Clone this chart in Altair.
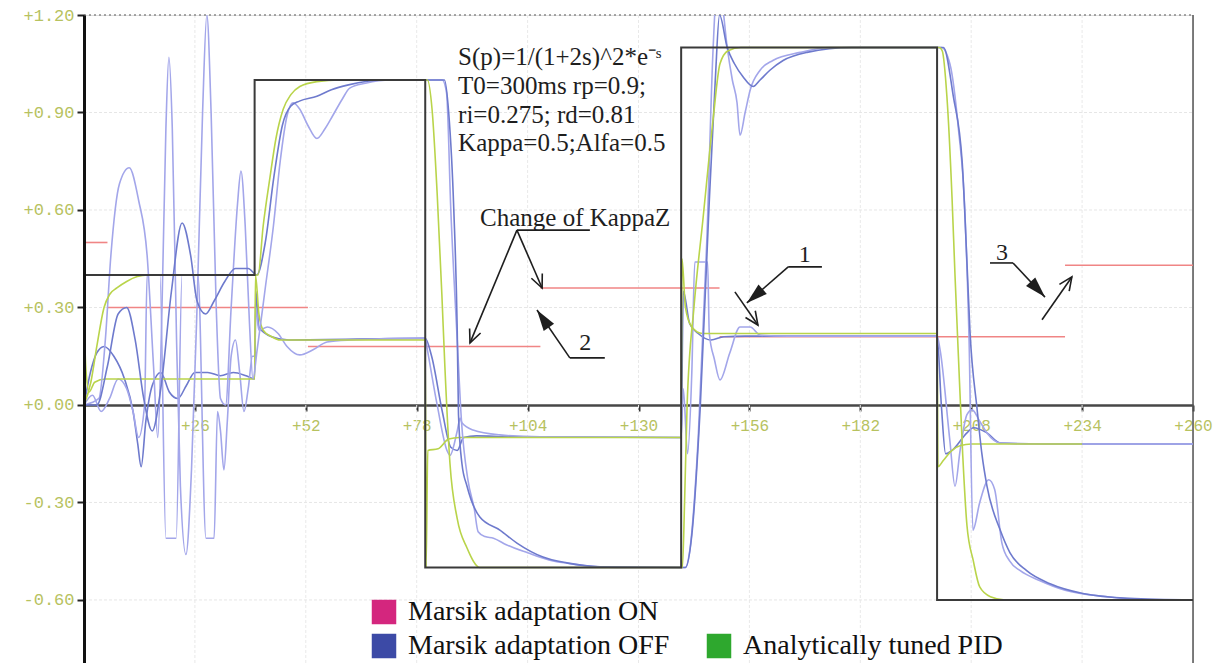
import math
import altair as alt
import pandas as pd

# ---------------- values ----------------
x_ticks = [26, 52, 78, 104, 130, 156, 182, 208, 234, 260]
y_ticks = [-0.6, -0.3, 0.0, 0.3, 0.6, 0.9, 1.2]
y_grid = [-0.6, -0.3, 0.3, 0.6, 0.9]
x_grid = [26, 52, 78, 104, 130, 156, 182, 208, 234]

setpoint = [(0, 0.40), (40, 0.40), (40, 1.00), (80, 1.00), (80, -0.50), (140, -0.50),
            (140, 1.10), (200, 1.10), (200, -0.60), (260, -0.60)]

kappa_from = [0, 5.5, 52.5, 107, 149, 230]
kappa_to = [5.5, 52.5, 107, 149, 230, 260]
kappa_level = [0.50, 0.30, 0.18, 0.36, 0.21, 0.43]

pid_output = [(0, 0.0), (1.6, 0.07), (3.0, 0.18), (4.7, 0.30), (6.0, 0.34), (7.7, 0.36), (10.0, 0.38),
              (12.5, 0.395), (15.0, 0.40), (40.8, 0.40), (42.0, 0.55), (43.6, 0.70), (45.0, 0.82),
              (46.7, 0.91), (48.5, 0.955), (50.6, 0.98), (54.6, 0.995), (60.0, 1.0), (80.5, 1.0),
              (81.6, 0.91), (82.8, 0.65), (83.9, 0.34), (84.6, 0.12), (85.8, -0.18), (87.5, -0.35),
              (89.8, -0.44), (92.8, -0.50), (140.3, -0.50), (140.8, -0.30), (141.4, 0.0), (143.0, 0.30),
              (145.1, 0.57), (147.5, 0.88), (149.1, 1.05), (151.0, 1.09), (154.0, 1.10), (200.5, 1.10),
              (201.2, 1.09), (202.3, 0.95), (203.5, 0.64), (204.2, 0.40), (205.0, 0.15), (206.0, -0.15),
              (207.0, -0.37), (208.5, -0.48), (210.0, -0.56), (212.5, -0.59), (216.0, -0.60), (260.0, -0.60)]

pid_control = [(0, 0.30), (0.4, 0.12), (1.2, 0.04), (2.5, 0.07), (5.0, 0.08), (40.0, 0.08), (40.2, 0.40),
               (41.0, 0.28), (42.0, 0.23), (44.0, 0.21), (46.0, 0.20), (80.0, 0.20), (80.2, -0.50),
               (80.6, -0.14), (83.0, -0.135), (85.5, -0.105), (88.0, -0.10), (140.0, -0.10), (140.2, 0.45),
               (141.0, 0.30), (142.5, 0.24), (145.0, 0.22), (200.0, 0.22), (200.2, -0.19), (201.5, -0.17),
               (203.5, -0.14), (205.5, -0.125), (208.0, -0.12), (234.0, -0.12)]

light_output = [(0, 0.0), (3.5, 0.02), (5.0, 0.2), (6.3, 0.46), (8.3, 0.68), (10.6, 0.73), (12.8, 0.63),
                (14.8, 0.46), (16.3, 0.12), (17.3, -0.1), (18.2, 0.25), (19.2, 0.85), (19.9, 1.07),
                (20.7, 0.85), (21.7, 0.2), (22.6, -0.25), (23.9, -0.46), (25.2, -0.2), (26.5, 0.3),
                (27.8, 0.9), (28.8, 1.20), (29.8, 0.9), (31.0, 0.3), (32.0, 0.02), (33.2, 0.0),
                (34.5, 0.3), (36.0, 0.62), (36.8, 0.72), (37.8, 0.55), (38.8, 0.25), (39.6, 0.08),
                (40.6, 0.17), (42.5, 0.36), (44.4, 0.55), (46.0, 0.75), (47.6, 0.89), (49.0, 0.93),
                (50.6, 0.91), (52.5, 0.86), (54.6, 0.82), (56.5, 0.85), (58.3, 0.89), (60.5, 0.94),
                (62.3, 0.975), (66.0, 0.99), (72.0, 1.0), (84.0, 1.0), (85.0, 0.96), (86.0, 0.6),
                (87.5, 0.2), (88.5, -0.05), (90.0, -0.23), (91.5, -0.32), (92.4, -0.39), (94.0, -0.405),
                (96.0, -0.41), (99.0, -0.43), (104.0, -0.455), (109.0, -0.477), (115.0, -0.49),
                (125.0, -0.50), (141.0, -0.50), (142.0, -0.45), (144.0, -0.1), (146.0, 0.5), (147.5, 1.1),
                (148.5, 1.3), (149.5, 1.25), (150.8, 1.1), (152.0, 1.0), (153.1, 0.93), (153.8, 0.83),
                (155.0, 0.9), (156.2, 0.97), (158.5, 1.03), (161.5, 1.06), (167.9, 1.085), (175.0, 1.1),
                (201.0, 1.1), (203.0, 1.05), (205.0, 0.85), (206.5, 0.6), (207.5, 0.2), (208.4, -0.385),
                (210.0, -0.3), (212.1, -0.23), (213.5, -0.26), (215.2, -0.425), (217.0, -0.48),
                (219.5, -0.51), (224.0, -0.54), (230.0, -0.57), (240.0, -0.59), (250.0, -0.60), (260.0, -0.60)]

light_control = [(0, 0.0), (2.0, 0.03), (4.0, -0.02), (6.0, 0.02), (8.0, 0.08), (10.0, 0.05), (11.5, -0.02),
                 (12.8, -0.1), (14.2, 0.0), (14.8, 0.40), (17.8, 0.40), (19.2, -0.41), (21.6, -0.41),
                 (23.0, 0.40), (26.7, 0.40), (28.6, -0.41), (30.5, -0.41), (31.3, -0.02), (32.0, -0.08),
                 (32.8, -0.2), (33.6, -0.05), (34.5, 0.15), (35.5, 0.2), (36.5, 0.1), (37.5, -0.02),
                 (38.5, 0.05), (39.5, 0.15), (40.0, 0.15), (40.3, 0.30), (41.0, 0.23), (43.0, 0.24),
                 (45.5, 0.22), (47.6, 0.18), (50.6, 0.154), (53.7, 0.17), (57.0, 0.194), (62.3, 0.20),
                 (80.0, 0.206), (80.5, 0.17), (82.8, 0.0), (85.1, -0.14), (85.8, -0.155), (87.5, -0.08),
                 (88.2, -0.04), (88.6, -0.055), (91.2, -0.077), (97.5, -0.092), (107.0, -0.098),
                 (140.0, -0.10), (140.5, 0.05), (141.5, -0.15), (142.5, 0.1), (143.2, 0.44), (146.2, 0.44),
                 (146.6, 0.22), (147.8, 0.14), (149.1, 0.077), (151.4, 0.16), (153.8, 0.24), (156.2, 0.24),
                 (158.5, 0.215), (165.0, 0.212), (200.0, 0.212), (200.7, 0.17), (203.0, -0.11),
                 (204.2, -0.25), (205.4, -0.14), (207.0, -0.03), (208.2, -0.015), (210.0, -0.05),
                 (211.7, -0.086), (214.8, -0.117), (222.5, -0.12), (260.0, -0.12)]

dark_output = [(0, 0.0), (3.0, 0.0), (5.5, 0.12), (8.0, 0.28), (10.0, 0.3), (12.0, 0.2), (14.0, 0.02),
               (16.0, -0.08), (18.0, 0.05), (20.5, 0.35), (23.0, 0.56), (25.0, 0.46), (26.5, 0.32),
               (28.5, 0.28), (30.5, 0.32), (33.0, 0.38), (35.5, 0.42), (38.5, 0.42), (40.5, 0.40),
               (42.5, 0.5), (44.5, 0.7), (46.5, 0.86), (48.5, 0.92), (50.5, 0.935), (54.6, 0.95),
               (58.0, 0.97), (62.0, 0.985), (70.0, 1.0), (84.5, 1.0), (85.5, 0.9), (86.7, 0.6),
               (87.5, 0.23), (87.8, -0.03), (88.6, -0.18), (89.8, -0.25), (92.8, -0.345), (97.5, -0.385),
               (101.5, -0.425), (107.6, -0.468), (113.2, -0.486), (121.0, -0.498), (141.0, -0.50),
               (142.5, -0.4), (144.5, 0.0), (146.5, 0.6), (148.0, 1.0), (149.0, 1.2), (150.8, 1.1),
               (152.5, 1.05), (154.5, 1.01), (156.9, 0.98), (158.5, 1.0), (160.8, 1.03), (163.9, 1.06),
               (169.5, 1.085), (180.0, 1.1), (201.5, 1.1), (203.8, 0.95), (205.9, 0.745), (207.0, 0.44),
               (207.7, 0.23), (209.4, -0.015), (210.5, -0.15), (211.7, -0.25), (214.8, -0.385),
               (217.1, -0.455), (221.0, -0.51), (226.5, -0.55), (234.2, -0.58), (245.0, -0.595), (260.0, -0.60)]

dark_control = [(0, 0.0), (1.5, 0.1), (3.0, 0.16), (4.7, 0.18), (7.0, 0.15), (9.5, 0.08), (11.5, -0.02),
                (12.6, -0.12), (13.4, -0.19), (14.5, -0.05), (16.0, 0.06), (18.0, 0.1), (20.0, 0.04),
                (22.0, 0.02), (24.0, 0.06), (26.0, 0.1), (29.0, 0.1), (32.0, 0.09), (35.0, 0.1), (38.0, 0.09),
                (40.0, 0.08), (40.3, 0.35), (41.0, 0.24), (44.0, 0.21), (48.0, 0.20), (80.0, 0.205),
                (81.5, 0.15), (84.0, -0.02), (86.0, -0.13), (87.5, -0.14), (89.0, -0.1), (92.0, -0.095),
                (100.0, -0.098), (140.0, -0.10), (140.5, 0.35), (142.0, 0.25), (144.0, 0.22), (147.0, 0.20),
                (150.0, 0.21), (155.0, 0.212), (200.0, 0.212), (201.0, 0.0), (202.0, -0.15), (203.5, -0.14),
                (207.0, -0.086), (208.5, -0.07), (211.7, -0.086), (214.8, -0.117), (225.0, -0.12), (260.0, -0.12)]

# annotations
eq_lines = ["S(p)=1/(1+2s)^2*e\u207b\u02e2", "T0=300ms rp=0.9;", "ri=0.275; rd=0.81", "Kappa=0.5;Alfa=0.5"]
eq_y = [1.071, 0.982, 0.892, 0.806]
eq_x = [87.7, 87.7, 87.7, 87.7]

change_text = ["Change of KappaZ"]
change_x = [92.85]
change_y = [0.575]

marker_text = ["1", "2", "3"]
marker_x = [169.0, 117.5, 215.2]
marker_y = [0.462, 0.191, 0.468]

underlines = [(101.5, 0.538, 118.6, 0.538), (113.9, 0.145, 122.1, 0.145),
              (165.1, 0.425, 173.0, 0.425), (212.4, 0.437, 217.8, 0.437)]
open_arrows = [(101.5, 0.538, 90.5, 0.191), (101.5, 0.538, 107.4, 0.360),
               (152.6, 0.348, 158.0, 0.246), (224.6, 0.262, 231.6, 0.394)]
filled_arrows = [(113.9, 0.145, 106.2, 0.292), (165.1, 0.425, 155.4, 0.314),
                 (217.8, 0.437, 225.3, 0.332)]

legend_names_a = ["Marsik adaptation ON", "Marsik adaptation OFF"]
legend_colors_a = ["#d4267e", "#3c4aa6"]
legend_names_b = ["Analytically tuned PID"]
legend_colors_b = ["#2ea82e"]

# ---------------- chart ----------------
W, H = 1109, 648
X_DOM = [0, 260]
Y_DOM = [-0.794, 1.2]
PX_X = W / (X_DOM[1] - X_DOM[0])
PX_Y = H / (Y_DOM[1] - Y_DOM[0])

TICK_COL = "#b7c25f"
AXIS_FONT = "Liberation Mono"
SERIF = "Liberation Serif"
INK = "#1e1e1e"

xs = alt.Scale(domain=X_DOM, nice=False, zero=False)
ys = alt.Scale(domain=Y_DOM, nice=False, zero=False)

x_axis = alt.Axis(values=x_ticks, labelExpr="'+' + datum.value", offset=-258, orient="bottom",
                  grid=False, domainColor="#474747", domainWidth=2.5, tickColor="#333", tickSize=6,
                  tickWidth=2, labelFont=AXIS_FONT, labelFontSize=16, labelColor=TICK_COL,
                  labelPadding=6, title=None, labelFlush=False, labelOverlap=False)
y_axis = alt.Axis(values=y_ticks,
                  labelExpr="(datum.value < -0.001 ? '-' : '+') + format(abs(datum.value), '.2f')",
                  grid=False, domainColor="#111", domainWidth=3, tickColor="#222", tickSize=7,
                  tickWidth=2, labelFont=AXIS_FONT, labelFontSize=17, labelColor=TICK_COL,
                  labelPadding=3, title=None, zindex=1, labelFlush=False, labelOverlap=False)

X = alt.X("x:Q", scale=xs, axis=x_axis)
Y = alt.Y("y:Q", scale=ys, axis=y_axis)


def series_df(points):
    return pd.DataFrame({"x": [p[0] for p in points], "y": [p[1] for p in points],
                         "i": list(range(len(points)))})


def line_layer(points, color, width, interp="monotone"):
    return alt.Chart(series_df(points)).mark_line(color=color, strokeWidth=width, clip=True,
                                                  interpolate=interp).encode(x=X, y=Y, order="i:Q")


def seg_df(segs):
    return pd.DataFrame({"x": [s[0] for s in segs], "y": [s[1] for s in segs],
                         "x2": [s[2] for s in segs], "y2": [s[3] for s in segs]})


def head_df(arrows):
    ang = []
    for tx, ty, hx, hy in arrows:
        dx = (hx - tx) * PX_X
        dy = -(hy - ty) * PX_Y
        ang.append(math.degrees(math.atan2(dx, -dy)) % 360)
    return pd.DataFrame({"x": [a[2] for a in arrows], "y": [a[3] for a in arrows], "a": ang})


# grid
vgrid = alt.Chart(pd.DataFrame({"x": x_grid, "y": [Y_DOM[0]] * len(x_grid),
                                "y2": [Y_DOM[1]] * len(x_grid)})).mark_rule(
    color="#e9e9e9", strokeWidth=1, strokeDash=[3, 2]).encode(x=X, y=Y, y2="y2:Q")
hgrid = alt.Chart(pd.DataFrame({"y": y_grid, "x": [0] * len(y_grid), "x2": [260] * len(y_grid)})).mark_rule(
    color="#e6e6e6", strokeWidth=1, strokeDash=[3, 2]).encode(x=X, x2="x2:Q", y=Y)
top_line = alt.Chart(pd.DataFrame({"y": [1.2], "x": [0], "x2": [260]})).mark_rule(
    color="#8a8a8a", strokeWidth=1.3, strokeDash=[2, 3]).encode(x=X, x2="x2:Q", y=Y)
right_line = alt.Chart(pd.DataFrame({"x": [260], "y": [Y_DOM[0]], "y2": [Y_DOM[1]]})).mark_rule(
    color="#555", strokeWidth=1.5).encode(x=X, y=Y, y2="y2:Q")

kappa = alt.Chart(pd.DataFrame({"x": kappa_from, "x2": kappa_to, "y": kappa_level})).mark_rule(
    color="#f08585", strokeWidth=1.6).encode(x=X, x2="x2:Q", y=Y)

BLUE_L = "#a3a6ea"
BLUE_D = "#6e7acd"
GREEN = "#b9d44a"

layers = [vgrid, hgrid, top_line, right_line, kappa,
          line_layer(dark_control, BLUE_D, 1.6), line_layer(light_control, BLUE_L, 1.6),
          line_layer(pid_control, GREEN, 1.6),
          line_layer(light_output, BLUE_L, 1.6), line_layer(dark_output, BLUE_D, 1.6),
          line_layer(pid_output, GREEN, 1.6),
          line_layer(setpoint, "#3a3a3a", 2.0, "linear")]

# annotations
layers.append(alt.Chart(seg_df(underlines + open_arrows + filled_arrows)).mark_rule(
    color=INK, strokeWidth=1.6).encode(x=X, y=Y, x2="x2:Q", y2="y2:Q"))
layers.append(alt.Chart(head_df(open_arrows)).mark_point(
    shape="M-0.45,1L0,0L0.45,1", filled=False, size=700, strokeWidth=1.6, color=INK, opacity=1).encode(
    x=X, y=Y, angle=alt.Angle("a:Q", scale=None)))
layers.append(alt.Chart(head_df(filled_arrows)).mark_point(
    shape="M0,0L-0.42,1.4L0.42,1.4Z", filled=True, size=900, color=INK, opacity=1).encode(
    x=X, y=Y, angle=alt.Angle("a:Q", scale=None)))
layers.append(alt.Chart(pd.DataFrame({"x": eq_x, "y": eq_y, "t": eq_lines})).mark_text(
    align="left", baseline="middle", font=SERIF, fontSize=25, color=INK).encode(x=X, y=Y, text="t:N"))
layers.append(alt.Chart(pd.DataFrame({"x": change_x, "y": change_y, "t": change_text})).mark_text(
    align="left", baseline="middle", font=SERIF, fontSize=25, color=INK).encode(x=X, y=Y, text="t:N"))
layers.append(alt.Chart(pd.DataFrame({"x": marker_x, "y": marker_y, "t": marker_text})).mark_text(
    align="center", baseline="middle", font=SERIF, fontSize=24, color=INK).encode(x=X, y=Y, text="t:N"))

# legends
def legend_layer(names, colors, lx, ly):
    return alt.Chart(pd.DataFrame({"name": names})).mark_square(opacity=0, size=10).encode(
        x=alt.value(0), y=alt.value(0),
        color=alt.Color("name:N", scale=alt.Scale(domain=names, range=colors),
                        legend=alt.Legend(title=None, orient="none", legendX=lx, legendY=ly,
                                          direction="vertical", symbolType="square", symbolSize=600,
                                          symbolOpacity=1, symbolStrokeWidth=0, labelFont=SERIF,
                                          labelFontSize=28, labelColor="#111", labelLimit=0,
                                          rowPadding=6, padding=0, labelOffset=10)))


layers.append(legend_layer(legend_names_a, legend_colors_a, 286, 583))
layers.append(legend_layer(legend_names_b, legend_colors_b, 621, 617))

chart = alt.layer(*layers).resolve_scale(color="independent").properties(
    width=W, height=H, padding={"left": 84, "top": 15, "right": 28, "bottom": 0}, autosize="none"
).configure_view(stroke=None).configure(background="white")

chart.save("out.html", embed_options={"renderer": "svg", "actions": False})
